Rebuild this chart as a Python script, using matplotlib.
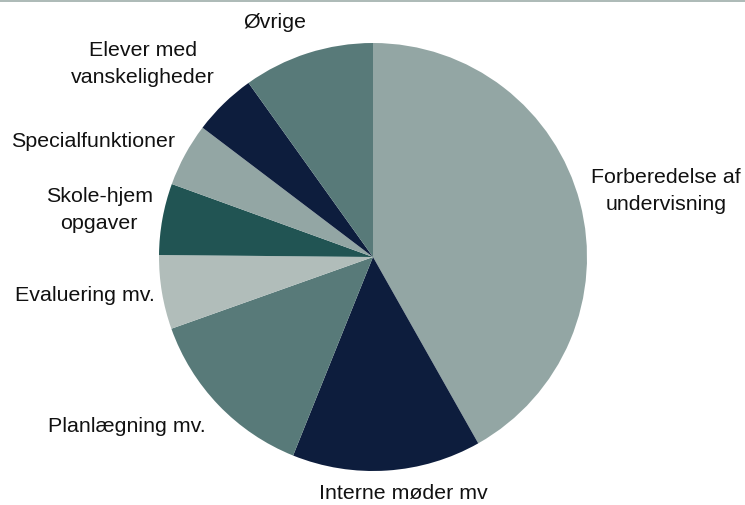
import matplotlib.pyplot as plt
from matplotlib.patches import Rectangle

# shares of time (percent), clockwise from 12 o'clock
categories = ["Forberedelse af\nundervisning", "Interne møder mv", "Planlægning mv.",
              "Evaluering mv.", "Skole-hjem\nopgaver", "Specialfunktioner",
              "Elever med\nvanskeligheder", "Øvrige"]
shares = [41.9, 14.3, 13.5, 5.6, 5.4, 4.8, 4.8, 9.9]
colors = ["#93A6A4", "#0D1D3D", "#587A79", "#B1BDBA", "#215453", "#93A6A4", "#0D1D3D", "#587A79"]

# label centres, in pie radius units
label_pos = [(1.369, 0.308), (0.140, -1.107), (-1.150, -0.794), (-1.346, -0.178),
             (-1.280, 0.220), (-1.308, 0.542), (-1.075, 0.902), (-0.458, 1.098)]

plt.rcParams['font.family'] = ['Liberation Sans', 'DejaVu Sans']

fig = plt.figure(figsize=(7.45, 5.05), dpi=100)
ax = fig.add_axes([0, 0, 1, 1])

wedges, texts = ax.pie(shares, labels=categories, colors=colors, startangle=90,
                       counterclock=False, radius=1.0,
                       wedgeprops=dict(linewidth=0),
                       textprops=dict(fontsize=15.4, color="#111111"))

for t, (x, y) in zip(texts, label_pos):
    t.set_position((x, y))
    t.set_ha('center')
    t.set_va('center')
    t.set_multialignment('center')
    t.set_linespacing(1.5)

ax.set_aspect('auto')
ax.set_xlim(-373 / 214, (745 - 373) / 214)
ax.set_ylim((257 - 505) / 214, 257 / 214)
ax.axis('off')

# thin grey rule along the top edge
fig.patches.append(Rectangle((0, 1 - 2 / 505), 1, 2 / 505, transform=fig.transFigure,
                             facecolor="#AEBBB8", edgecolor='none'))

plt.savefig("out.png", dpi=100)
